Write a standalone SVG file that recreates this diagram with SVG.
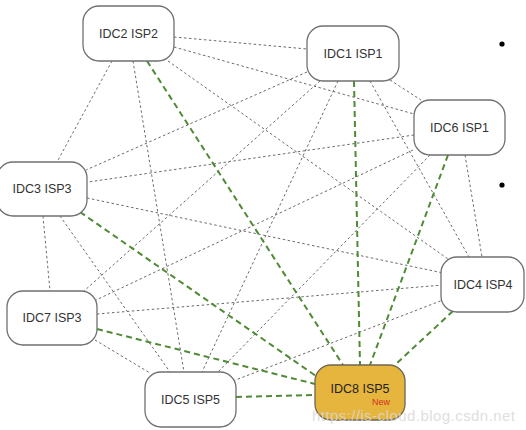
<svg xmlns="http://www.w3.org/2000/svg" width="526" height="430" viewBox="0 0 526 430">
<style>
.g{stroke:#6a6a6a;stroke-width:1;stroke-dasharray:2.5,2.5;fill:none}
.n{stroke:#4f8a34;stroke-width:2;stroke-dasharray:6,4;fill:none}
.box{fill:#fff;stroke:#707070;stroke-width:1.3}
.new{fill:#e6b53e;stroke:#6e6650;stroke-width:1.3}
.t{font-family:"Liberation Sans",Arial,sans-serif;font-size:12.5px;fill:#333;text-anchor:middle;dominant-baseline:central}
</style>
<rect width="526" height="430" fill="#fff"/>
<g id="connectors">
<line class="g" x1="174" y1="37" x2="307" y2="49"/>
<line class="g" x1="174" y1="47" x2="414" y2="114"/>
<line class="g" x1="168" y1="61" x2="448" y2="259"/>
<line class="g" x1="133" y1="61" x2="184" y2="372"/>
<line class="g" x1="112" y1="61" x2="57" y2="162"/>
<line class="g" x1="307" y1="72" x2="86" y2="170"/>
<line class="g" x1="338" y1="81" x2="202" y2="372"/>
<line class="g" x1="320" y1="81" x2="84" y2="291"/>
<line class="g" x1="370" y1="81" x2="469" y2="257"/>
<line class="g" x1="390" y1="80" x2="421" y2="100"/>
<line class="g" x1="414" y1="135" x2="88" y2="182"/>
<line class="g" x1="413" y1="150" x2="96" y2="300"/>
<line class="g" x1="430" y1="155" x2="218" y2="372"/>
<line class="g" x1="465" y1="155" x2="482" y2="257"/>
<line class="g" x1="87" y1="198" x2="443" y2="273"/>
<line class="g" x1="43" y1="216" x2="50" y2="291"/>
<line class="g" x1="60" y1="216" x2="170" y2="372"/>
<line class="g" x1="97" y1="314" x2="443" y2="285"/>
<line class="g" x1="95" y1="340" x2="150" y2="373"/>
<line class="g" x1="233" y1="381" x2="443" y2="300"/>
<line class="n" x1="147" y1="61" x2="343" y2="365"/>
<line class="n" x1="354" y1="81" x2="360" y2="365"/>
<line class="n" x1="448" y1="155" x2="370" y2="365"/>
<line class="n" x1="453" y1="311" x2="396" y2="364"/>
<line class="n" x1="80" y1="212" x2="316" y2="376"/>
<line class="n" x1="97" y1="329" x2="315" y2="384"/>
<line class="n" x1="236" y1="397" x2="315" y2="395"/>
</g>
<g id="idc2"><rect class="box" x="83" y="6" width="91" height="55" rx="16"/><text class="t" x="128.5" y="33.5">IDC2 ISP2</text></g>
<g id="idc1"><rect class="box" x="307" y="26" width="92" height="55" rx="16"/><text class="t" x="353" y="53.5">IDC1 ISP1</text></g>
<g id="idc6"><rect class="box" x="414" y="100" width="91" height="55" rx="16"/><text class="t" x="459.5" y="127.5">IDC6 ISP1</text></g>
<g id="idc3"><rect class="box" x="-3" y="162" width="90" height="54" rx="16"/><text class="t" x="42" y="189">IDC3 ISP3</text></g>
<g id="idc4"><rect class="box" x="441" y="257" width="83" height="55" rx="16"/><text class="t" x="483" y="284.5">IDC4 ISP4</text></g>
<g id="idc7"><rect class="box" x="7" y="291" width="90" height="54" rx="16"/><text class="t" x="52" y="318">IDC7 ISP3</text></g>
<g id="idc5"><rect class="box" x="145" y="372" width="91" height="55" rx="16"/><text class="t" x="190.5" y="399.5">IDC5 ISP5</text></g>
<g id="idc8"><rect class="new" x="315" y="365" width="90" height="55" rx="16"/><text class="t" x="360" y="389" style="fill:#222">IDC8 ISP5</text>
<text x="372" y="405" font-family="Liberation Sans, Arial, sans-serif" font-size="9" fill="#d2301e">New</text></g>
<circle cx="502" cy="44" r="2.6" fill="#000"/>
<circle cx="502" cy="185" r="2.6" fill="#000"/>
<text x="312" y="421" font-family="Liberation Sans, Arial, sans-serif" font-size="15" fill="#d8d8d8" fill-opacity="0.85" textLength="203">https://is-cloud.blog.csdn.net</text>
</svg>
